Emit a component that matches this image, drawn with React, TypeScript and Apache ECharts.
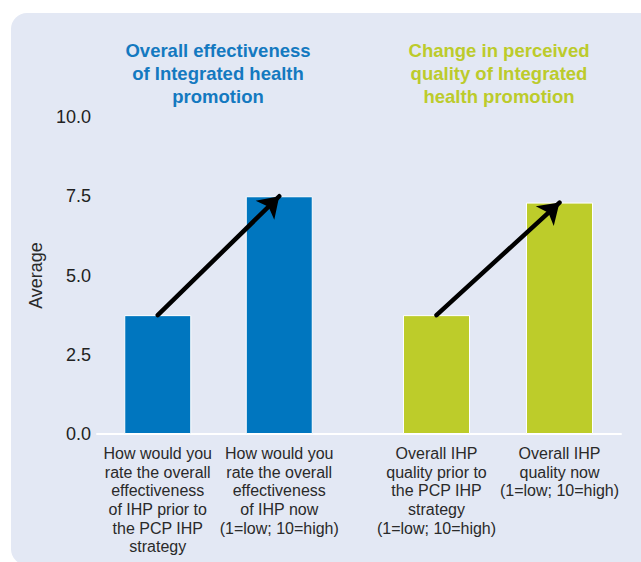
import React, { useEffect, useRef } from "react";
import * as echarts from "echarts";

const leftCategories = [
  "How would you\nrate the overall\neffectiveness\nof IHP prior to\nthe PCP IHP\nstrategy",
  "How would you\nrate the overall\neffectiveness\nof IHP now\n(1=low; 10=high)",
];
const rightCategories = [
  "Overall IHP\nquality prior to\nthe PCP IHP\nstrategy\n(1=low; 10=high)",
  "Overall IHP\nquality now\n(1=low; 10=high)",
];
const effectivenessValues = [3.75, 7.5];
const qualityValues = [3.75, 7.3];
const yTicks = [0, 2.5, 5, 7.5, 10];
const leftTitle = "Overall effectiveness\nof Integrated health\npromotion";
const rightTitle = "Change in perceived\nquality of Integrated\nhealth promotion";

const FONT = '"Liberation Sans", Arial, Helvetica, sans-serif';
const BLUE = "#0076bf";
const GREEN = "#bdcc2a";

export default function App() {
  const ref = useRef<HTMLDivElement>(null);
  useEffect(() => {
    if (!ref.current) return;
    const chart = echarts.init(ref.current, undefined, { renderer: "svg" });
    const arrow = (vals: number[]) => ({
      silent: true,
      animation: false,
      symbol: ["none", "arrow"],
      symbolSize: 20,
      label: { show: false },
      lineStyle: { color: "#000", width: 4.5, type: "solid", cap: "round" },
      emphasis: { disabled: true },
      data: [[{ coord: [0, vals[0]] }, { coord: [1, vals[1]] }]],
    });
    const catAxis = (idx: number, cats: string[]) => ({
      type: "category",
      gridIndex: idx,
      data: cats,
      axisLine: { show: false },
      axisTick: { show: false },
      axisLabel: {
        interval: 0,
        margin: 10,
        fontFamily: FONT,
        fontSize: 16,
        lineHeight: 18.7,
        color: "#2a2a2a",
      },
    });
    const valAxis = (idx: number, show: boolean) => ({
      type: "value",
      gridIndex: idx,
      min: yTicks[0],
      max: yTicks[yTicks.length - 1],
      interval: 2.5,
      show,
      name: show ? "Average" : "",
      nameLocation: "middle",
      nameGap: 52,
      nameTextStyle: { fontFamily: FONT, fontSize: 18, color: "#2a2a2a" },
      axisLine: { show: false },
      axisTick: { show: false },
      splitLine: { show: false },
      axisLabel: {
        show,
        margin: 6,
        fontFamily: FONT,
        fontSize: 18,
        color: "#222",
        formatter: (v: number) => v.toFixed(1),
      },
    });
    chart.setOption({
      animation: false,
      backgroundColor: "#ffffff",
      graphic: [
        {
          type: "rect",
          z: -10,
          shape: { x: 11, y: 13, width: 660, height: 552, r: 16 },
          style: { fill: "#e3e8f4" },
          silent: true,
        },
        {
          type: "text",
          x: 218,
          y: 38.5,
          style: {
            text: leftTitle,
            fill: "#1479c0",
            font: `bold 18.5px ${FONT}`,
            lineHeight: 23,
            textAlign: "center",
            textVerticalAlign: "top",
          },
        },
        {
          type: "text",
          x: 499,
          y: 38.5,
          style: {
            text: rightTitle,
            fill: "#bccb2b",
            font: `bold 18.5px ${FONT}`,
            lineHeight: 23,
            textAlign: "center",
            textVerticalAlign: "top",
          },
        },
      ],
      grid: [
        { left: 97, width: 243, top: 117, height: 317 },
        { left: 375, width: 246, top: 117, height: 317 },
        { left: 97, width: 524, top: 117, height: 317 },
      ],
      xAxis: [
        catAxis(0, leftCategories),
        catAxis(1, rightCategories),
        {
          type: "value",
          gridIndex: 2,
          min: 0,
          max: 1,
          axisLine: { show: true, lineStyle: { color: "#ffffff", width: 2 } },
          axisTick: { show: false },
          axisLabel: { show: false },
          splitLine: { show: false },
        },
      ],
      yAxis: [valAxis(0, true), valAxis(1, false), valAxis(2, false)],
      series: [
        {
          type: "bar",
          xAxisIndex: 0,
          yAxisIndex: 0,
          data: effectivenessValues,
          barWidth: 67,
          itemStyle: { color: BLUE, borderColor: "#ffffff", borderWidth: 1 },
          markLine: arrow(effectivenessValues),
          z: 2,
        },
        {
          type: "bar",
          xAxisIndex: 1,
          yAxisIndex: 1,
          data: qualityValues,
          barWidth: 67,
          itemStyle: { color: GREEN, borderColor: "#ffffff", borderWidth: 1 },
          markLine: arrow(qualityValues),
          z: 2,
        },
      ],
    });
    return () => chart.dispose();
  }, []);
  return (
    <div
      ref={ref}
      style={{ position: "fixed", left: 0, top: 0, width: 641, height: 562 }}
    />
  );
}
